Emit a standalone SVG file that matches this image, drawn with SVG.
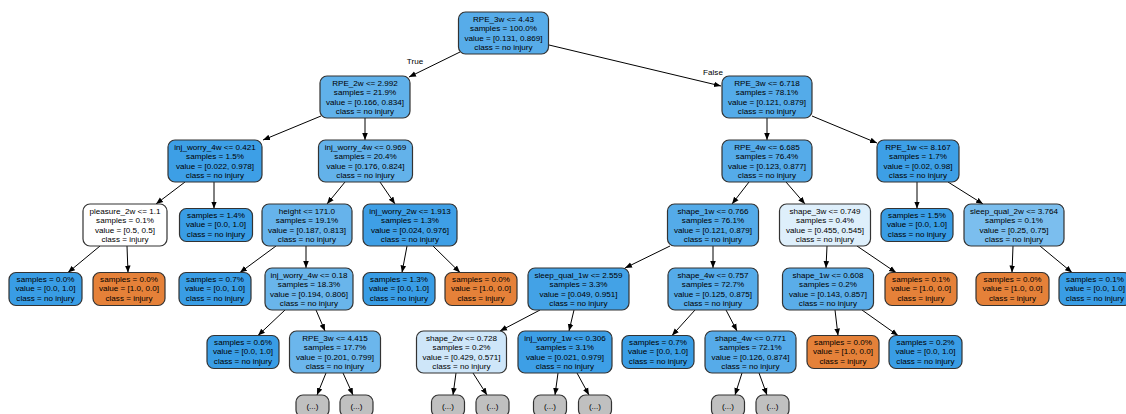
<svg xmlns="http://www.w3.org/2000/svg" width="1126" height="414" viewBox="0 0 1126 414">
<defs>
<style>
.n rect{stroke:#333;stroke-width:1.2}
text{font-family:"Liberation Sans",Arial,Helvetica,sans-serif;font-size:8.1px;fill:#000;text-anchor:middle}
.e line{stroke:#000;stroke-width:1;marker-end:url(#ah)}
.blue{fill:#399de5}.orange{fill:#e58139}.gray{fill:#c0c0c0}
</style>
<marker id="ah" viewBox="0 0 10 10" refX="10" refY="5" markerWidth="7" markerHeight="7" markerUnits="userSpaceOnUse" orient="auto">
<path d="M0,1 L10,5 L0,9 z" fill="#000"/>
</marker>
</defs>
<rect width="1126" height="414" fill="#fff"/>
<g id="edges" class="e">
<line x1="460" y1="52" x2="409" y2="77"/>
<line x1="549" y1="45" x2="721" y2="86"/>
<line x1="321" y1="116" x2="263" y2="140"/>
<line x1="365" y1="118" x2="365" y2="140"/>
<line x1="767" y1="118" x2="767" y2="140"/>
<line x1="812" y1="116" x2="877" y2="143"/>
<line x1="185" y1="182" x2="156" y2="204"/>
<line x1="214" y1="182" x2="214" y2="208.5"/>
<line x1="345" y1="182" x2="327" y2="204"/>
<line x1="380" y1="182" x2="395" y2="204"/>
<line x1="917" y1="182" x2="917" y2="208.5"/>
<line x1="948" y1="182" x2="983" y2="204"/>
<line x1="749" y1="182" x2="732" y2="204"/>
<line x1="786" y1="182" x2="805" y2="204"/>
<line x1="100" y1="246" x2="68" y2="272.5"/>
<line x1="127" y1="246" x2="128" y2="272.5"/>
<line x1="276" y1="246" x2="240" y2="272.5"/>
<line x1="306" y1="246" x2="306" y2="268"/>
<line x1="407" y1="246" x2="402" y2="272.5"/>
<line x1="433" y1="246" x2="460" y2="272.5"/>
<line x1="670" y1="246" x2="625" y2="268"/>
<line x1="713" y1="246" x2="713" y2="268"/>
<line x1="827" y1="246" x2="826" y2="268"/>
<line x1="857" y1="246" x2="896" y2="272.5"/>
<line x1="1013" y1="246" x2="1012" y2="272.5"/>
<line x1="1040" y1="246" x2="1072" y2="272.5"/>
<line x1="285" y1="310" x2="258" y2="335.5"/>
<line x1="316" y1="310" x2="325" y2="331"/>
<line x1="540" y1="310" x2="500" y2="331"/>
<line x1="574" y1="310" x2="569" y2="331"/>
<line x1="695" y1="310" x2="672" y2="335.5"/>
<line x1="726" y1="310" x2="737" y2="331"/>
<line x1="835" y1="310" x2="838" y2="335.5"/>
<line x1="862" y1="310" x2="898" y2="335.5"/>
<line x1="326" y1="373" x2="317" y2="395"/>
<line x1="343" y1="373" x2="353" y2="395"/>
<line x1="456" y1="373" x2="453" y2="395"/>
<line x1="473" y1="373" x2="487" y2="395"/>
<line x1="558" y1="373" x2="555" y2="395"/>
<line x1="577" y1="373" x2="589" y2="395"/>
<line x1="742" y1="373" x2="735" y2="395"/>
<line x1="759" y1="373" x2="767" y2="395"/>
<text x="415" y="64">True</text>
<text x="713" y="75">False</text>
</g>

<g id="n0" class="n"><rect x="458.5" y="12" width="90" height="42" rx="7" fill="#57ace9"/>
<text x="503.5" y="22">RPE_3w &lt;= 4.43</text><text x="503.5" y="31.3">samples = 100.0%</text><text x="503.5" y="40.6">value = [0.131, 0.869]</text><text x="503.5" y="49.9">class = no injury</text></g>

<g id="n1" class="n"><rect x="320" y="76" width="90" height="42" rx="7" fill="#60b1ea"/>
<text x="365" y="86">RPE_2w &lt;= 2.992</text><text x="365" y="95.3">samples = 21.9%</text><text x="365" y="104.6">value = [0.166, 0.834]</text><text x="365" y="113.9">class = no injury</text></g>

<g id="n2" class="n"><rect x="722" y="76" width="90" height="42" rx="7" fill="#54abe9"/>
<text x="767" y="86">RPE_3w &lt;= 6.718</text><text x="767" y="95.3">samples = 78.1%</text><text x="767" y="104.6">value = [0.121, 0.879]</text><text x="767" y="113.9">class = no injury</text></g>

<g id="n3" class="n"><rect x="168" y="140" width="94" height="42" rx="7" fill="#3d9fe6"/>
<text x="215" y="150">inj_worry_4w &lt;= 0.421</text><text x="215" y="159.3">samples = 1.5%</text><text x="215" y="168.6">value = [0.022, 0.978]</text><text x="215" y="177.9">class = no injury</text></g>

<g id="n4" class="n"><rect x="318.5" y="140" width="94" height="42" rx="7" fill="#63b2ea"/>
<text x="365.5" y="150">inj_worry_4w &lt;= 0.969</text><text x="365.5" y="159.3">samples = 20.4%</text><text x="365.5" y="168.6">value = [0.176, 0.824]</text><text x="365.5" y="177.9">class = no injury</text></g>

<g id="n5" class="n"><rect x="722" y="140" width="90" height="42" rx="7" fill="#55abe9"/>
<text x="767" y="150">RPE_4w &lt;= 6.685</text><text x="767" y="159.3">samples = 76.4%</text><text x="767" y="168.6">value = [0.123, 0.877]</text><text x="767" y="177.9">class = no injury</text></g>

<g id="n6" class="n"><rect x="877" y="140" width="82" height="42" rx="7" fill="#3d9fe6"/>
<text x="918" y="150">RPE_1w &lt;= 8.167</text><text x="918" y="159.3">samples = 1.7%</text><text x="918" y="168.6">value = [0.02, 0.98]</text><text x="918" y="177.9">class = no injury</text></g>

<g id="n7" class="n"><rect x="83" y="204" width="84" height="42" rx="7" fill="#ffffff"/>
<text x="125" y="214">pleasure_2w &lt;= 1.1</text><text x="125" y="223.3">samples = 0.1%</text><text x="125" y="232.6">value = [0.5, 0.5]</text><text x="125" y="241.9">class = injury</text></g>

<g id="n8" class="n"><rect x="179.5" y="208.5" width="73" height="33" rx="7" class="blue"/>
<text x="216" y="218">samples = 1.4%</text><text x="216" y="227.3">value = [0.0, 1.0]</text><text x="216" y="236.6">class = no injury</text></g>

<g id="n9" class="n"><rect x="262" y="204" width="90" height="42" rx="7" fill="#66b3eb"/>
<text x="307" y="214">height &lt;= 171.0</text><text x="307" y="223.3">samples = 19.1%</text><text x="307" y="232.6">value = [0.187, 0.813]</text><text x="307" y="241.9">class = no injury</text></g>

<g id="n10" class="n"><rect x="363" y="204" width="94" height="42" rx="7" fill="#3e9fe6"/>
<text x="410" y="214">inj_worry_2w &lt;= 1.913</text><text x="410" y="223.3">samples = 1.3%</text><text x="410" y="232.6">value = [0.024, 0.976]</text><text x="410" y="241.9">class = no injury</text></g>

<g id="n11" class="n"><rect x="667.5" y="204" width="91" height="42" rx="7" fill="#54abe9"/>
<text x="713" y="214">shape_1w &lt;= 0.766</text><text x="713" y="223.3">samples = 76.1%</text><text x="713" y="232.6">value = [0.121, 0.879]</text><text x="713" y="241.9">class = no injury</text></g>

<g id="n12" class="n"><rect x="779.5" y="204" width="91" height="42" rx="7" fill="#deeffb"/>
<text x="825" y="214">shape_3w &lt;= 0.749</text><text x="825" y="223.3">samples = 0.4%</text><text x="825" y="232.6">value = [0.455, 0.545]</text><text x="825" y="241.9">class = no injury</text></g>

<g id="n13" class="n"><rect x="881" y="208.5" width="72" height="33" rx="7" class="blue"/>
<text x="917" y="218">samples = 1.5%</text><text x="917" y="227.3">value = [0.0, 1.0]</text><text x="917" y="236.6">class = no injury</text></g>

<g id="n14" class="n"><rect x="964" y="204" width="100" height="42" rx="7" fill="#7bbeee"/>
<text x="1014" y="214">sleep_qual_2w &lt;= 3.764</text><text x="1014" y="223.3">samples = 0.1%</text><text x="1014" y="232.6">value = [0.25, 0.75]</text><text x="1014" y="241.9">class = no injury</text></g>

<g id="n15" class="n"><rect x="9" y="272.5" width="73" height="33" rx="7" class="blue"/>
<text x="45.5" y="282">samples = 0.0%</text><text x="45.5" y="291.3">value = [0.0, 1.0]</text><text x="45.5" y="300.6">class = no injury</text></g>

<g id="n16" class="n"><rect x="93" y="272.5" width="72" height="33" rx="7" class="orange"/>
<text x="129" y="282">samples = 0.0%</text><text x="129" y="291.3">value = [1.0, 0.0]</text><text x="129" y="300.6">class = injury</text></g>

<g id="n17" class="n"><rect x="179" y="272.5" width="72" height="33" rx="7" class="blue"/>
<text x="215" y="282">samples = 0.7%</text><text x="215" y="291.3">value = [0.0, 1.0]</text><text x="215" y="300.6">class = no injury</text></g>

<g id="n18" class="n"><rect x="265" y="268" width="88" height="42" rx="7" fill="#69b5eb"/>
<text x="309" y="278">inj_worry_4w &lt;= 0.18</text><text x="309" y="287.3">samples = 18.3%</text><text x="309" y="296.6">value = [0.194, 0.806]</text><text x="309" y="305.9">class = no injury</text></g>

<g id="n19" class="n"><rect x="363" y="272.5" width="72" height="33" rx="7" class="blue"/>
<text x="399" y="282">samples = 1.3%</text><text x="399" y="291.3">value = [0.0, 1.0]</text><text x="399" y="300.6">class = no injury</text></g>

<g id="n20" class="n"><rect x="445" y="272.5" width="72" height="33" rx="7" class="orange"/>
<text x="481" y="282">samples = 0.0%</text><text x="481" y="291.3">value = [1.0, 0.0]</text><text x="481" y="300.6">class = injury</text></g>

<g id="n21" class="n"><rect x="528" y="268" width="101" height="42" rx="7" fill="#43a2e6"/>
<text x="578.5" y="278">sleep_qual_1w &lt;= 2.559</text><text x="578.5" y="287.3">samples = 3.3%</text><text x="578.5" y="296.6">value = [0.049, 0.951]</text><text x="578.5" y="305.9">class = no injury</text></g>

<g id="n22" class="n"><rect x="668" y="268" width="90" height="42" rx="7" fill="#55abe9"/>
<text x="713" y="278">shape_4w &lt;= 0.757</text><text x="713" y="287.3">samples = 72.7%</text><text x="713" y="296.6">value = [0.125, 0.875]</text><text x="713" y="305.9">class = no injury</text></g>

<g id="n23" class="n"><rect x="782.5" y="268" width="91" height="42" rx="7" fill="#5aade9"/>
<text x="828" y="278">shape_1w &lt;= 0.608</text><text x="828" y="287.3">samples = 0.2%</text><text x="828" y="296.6">value = [0.143, 0.857]</text><text x="828" y="305.9">class = no injury</text></g>

<g id="n24" class="n"><rect x="885" y="272.5" width="72" height="33" rx="7" class="orange"/>
<text x="921" y="282">samples = 0.1%</text><text x="921" y="291.3">value = [1.0, 0.0]</text><text x="921" y="300.6">class = injury</text></g>

<g id="n25" class="n"><rect x="976" y="272.5" width="73" height="33" rx="7" class="orange"/>
<text x="1012.5" y="282">samples = 0.0%</text><text x="1012.5" y="291.3">value = [1.0, 0.0]</text><text x="1012.5" y="300.6">class = injury</text></g>

<g id="n26" class="n"><rect x="1059" y="272.5" width="72" height="33" rx="7" class="blue"/>
<text x="1095" y="282">samples = 0.1%</text><text x="1095" y="291.3">value = [0.0, 1.0]</text><text x="1095" y="300.6">class = no injury</text></g>

<g id="n27" class="n"><rect x="207" y="335.5" width="72" height="33" rx="7" class="blue"/>
<text x="243" y="345">samples = 0.6%</text><text x="243" y="354.3">value = [0.0, 1.0]</text><text x="243" y="363.6">class = no injury</text></g>

<g id="n28" class="n"><rect x="289.5" y="331" width="91" height="42" rx="7" fill="#6bb6ec"/>
<text x="335" y="341">RPE_3w &lt;= 4.415</text><text x="335" y="350.3">samples = 17.7%</text><text x="335" y="359.6">value = [0.201, 0.799]</text><text x="335" y="368.9">class = no injury</text></g>

<g id="n29" class="n"><rect x="416.5" y="331" width="90" height="42" rx="7" fill="#cee6f9"/>
<text x="461.5" y="341">shape_2w &lt;= 0.728</text><text x="461.5" y="350.3">samples = 0.2%</text><text x="461.5" y="359.6">value = [0.429, 0.571]</text><text x="461.5" y="368.9">class = no injury</text></g>

<g id="n30" class="n"><rect x="518" y="331" width="94" height="42" rx="7" fill="#3d9fe6"/>
<text x="565" y="341">inj_worry_1w &lt;= 0.306</text><text x="565" y="350.3">samples = 3.1%</text><text x="565" y="359.6">value = [0.021, 0.979]</text><text x="565" y="368.9">class = no injury</text></g>

<g id="n31" class="n"><rect x="622" y="335.5" width="72" height="33" rx="7" class="blue"/>
<text x="658" y="345">samples = 0.7%</text><text x="658" y="354.3">value = [0.0, 1.0]</text><text x="658" y="363.6">class = no injury</text></g>

<g id="n32" class="n"><rect x="705" y="331" width="91" height="42" rx="7" fill="#56abe9"/>
<text x="750.5" y="341">shape_4w &lt;= 0.771</text><text x="750.5" y="350.3">samples = 72.1%</text><text x="750.5" y="359.6">value = [0.126, 0.874]</text><text x="750.5" y="368.9">class = no injury</text></g>

<g id="n33" class="n"><rect x="807" y="335.5" width="72" height="33" rx="7" class="orange"/>
<text x="843" y="345">samples = 0.0%</text><text x="843" y="354.3">value = [1.0, 0.0]</text><text x="843" y="363.6">class = injury</text></g>

<g id="n34" class="n"><rect x="889" y="335.5" width="73" height="33" rx="7" class="blue"/>
<text x="925.5" y="345">samples = 0.2%</text><text x="925.5" y="354.3">value = [0.0, 1.0]</text><text x="925.5" y="363.6">class = no injury</text></g>

<g id="n35" class="n"><rect x="296" y="395" width="33" height="22" rx="7" class="gray"/><text x="312.5" y="409">(...)</text></g>
<g id="n36" class="n"><rect x="340" y="395" width="33" height="22" rx="7" class="gray"/><text x="356.5" y="409">(...)</text></g>
<g id="n37" class="n"><rect x="431.5" y="395" width="33" height="22" rx="7" class="gray"/><text x="448" y="409">(...)</text></g>
<g id="n38" class="n"><rect x="476" y="395" width="33" height="22" rx="7" class="gray"/><text x="492.5" y="409">(...)</text></g>
<g id="n39" class="n"><rect x="533.5" y="395" width="33" height="22" rx="7" class="gray"/><text x="550" y="409">(...)</text></g>
<g id="n40" class="n"><rect x="578.5" y="395" width="33" height="22" rx="7" class="gray"/><text x="595" y="409">(...)</text></g>
<g id="n41" class="n"><rect x="711.5" y="395" width="33" height="22" rx="7" class="gray"/><text x="728" y="409">(...)</text></g>
<g id="n42" class="n"><rect x="756" y="395" width="33" height="22" rx="7" class="gray"/><text x="772.5" y="409">(...)</text></g>
</svg>
